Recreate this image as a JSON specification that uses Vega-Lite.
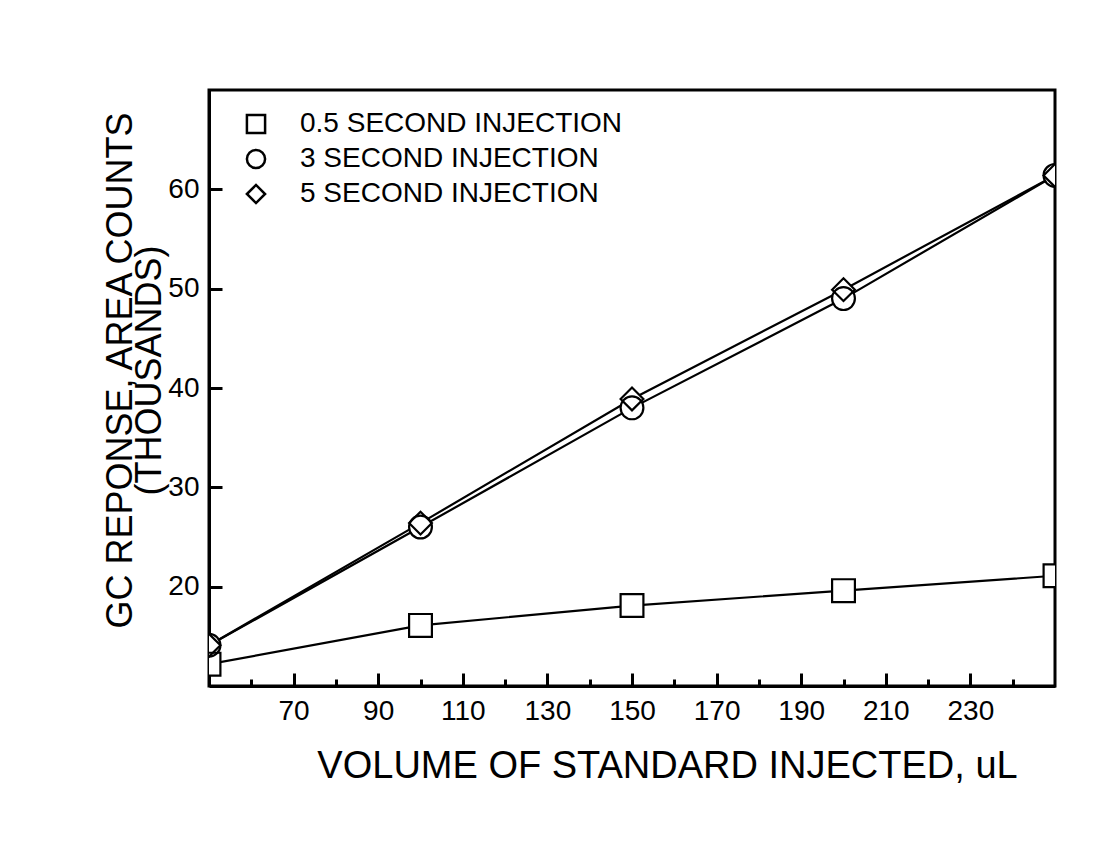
{
  "$schema": "https://vega.github.io/schema/vega-lite/v6.json",
  "autosize": "none",
  "width": 846,
  "height": 596,
  "padding": {"left": 209, "top": 90, "right": 63, "bottom": 166},
  "background": "white",
  "config": {
    "font": "Liberation Sans",
    "view": {"stroke": "black", "strokeWidth": 3},
    "axis": {"domainColor": "black", "domainWidth": 3, "tickColor": "black", "tickWidth": 3, "labelColor": "black", "titleColor": "black", "grid": false, "titleFontWeight": "normal", "labelFont": "Liberation Sans", "titleFont": "Liberation Sans"},
    "legend": {"labelFont": "Liberation Sans", "labelFontSize": 28, "labelLimit": 0}
  },
  "data": {
    "values": [
      {"volume": 50, "series": "0.5 SECOND INJECTION", "response": 12.2},
      {"volume": 100, "series": "0.5 SECOND INJECTION", "response": 16.1},
      {"volume": 150, "series": "0.5 SECOND INJECTION", "response": 18.1},
      {"volume": 200, "series": "0.5 SECOND INJECTION", "response": 19.6},
      {"volume": 250, "series": "0.5 SECOND INJECTION", "response": 21.1},
      {"volume": 50, "series": "3 SECOND INJECTION", "response": 14.1},
      {"volume": 100, "series": "3 SECOND INJECTION", "response": 26.0},
      {"volume": 150, "series": "3 SECOND INJECTION", "response": 38.0},
      {"volume": 200, "series": "3 SECOND INJECTION", "response": 49.0},
      {"volume": 250, "series": "3 SECOND INJECTION", "response": 61.4},
      {"volume": 50, "series": "5 SECOND INJECTION", "response": 14.1},
      {"volume": 100, "series": "5 SECOND INJECTION", "response": 26.4},
      {"volume": 150, "series": "5 SECOND INJECTION", "response": 38.9},
      {"volume": 200, "series": "5 SECOND INJECTION", "response": 49.9},
      {"volume": 250, "series": "5 SECOND INJECTION", "response": 61.4}
    ]
  },
  "encoding": {
    "x": {
      "field": "volume", "type": "quantitative",
      "scale": {"domain": [50, 250], "nice": false, "zero": false},
      "axis": {
        "title": "VOLUME OF STANDARD INJECTED, uL",
        "titleFontSize": 38, "titlePadding": 22, "titleX": 458,
        "values": [60, 70, 80, 90, 100, 110, 120, 130, 140, 150, 160, 170, 180, 190, 200, 210, 220, 230, 240],
        "labelExpr": "datum.value % 20 == 10 ? datum.label : ''",
        "labelFontSize": 28, "labelPadding": 24,
        "tickSize": {"condition": {"test": "datum.value % 20 == 10", "value": -13}, "value": -7}
      }
    },
    "y": {
      "field": "response", "type": "quantitative",
      "scale": {"domain": [10, 70], "nice": false, "zero": false},
      "axis": {
        "title": ["GC REPONSE, AREA COUNTS", "(THOUSANDS)"],
        "titleFontSize": 36, "titleLineHeight": 29, "titlePadding": -1, "titleY": 280,
        "values": [20, 30, 40, 50, 60],
        "labelFontSize": 28, "labelPadding": 23,
        "tickSize": -13
      }
    }
  },
  "resolve": {"scale": {"shape": "independent"}, "legend": {"shape": "independent"}},
  "layer": [
    {
      "mark": {"type": "line", "color": "black", "strokeWidth": 2.2, "clip": true},
      "encoding": {"detail": {"field": "series"}}
    },
    {
      "mark": {"type": "point", "filled": true, "color": "white", "opacity": 1, "size": 520, "clip": true},
      "encoding": {
        "shape": {
          "field": "series", "type": "nominal",
          "scale": {"domain": ["0.5 SECOND INJECTION", "3 SECOND INJECTION", "5 SECOND INJECTION"], "range": ["square", "circle", "diamond"]},
          "legend": null
        }
      }
    },
    {
      "mark": {"type": "point", "filled": false, "color": "black", "strokeWidth": 2.2, "size": 520, "opacity": 1, "clip": true},
      "encoding": {
        "shape": {
          "field": "series", "type": "nominal",
          "scale": {"domain": ["0.5 SECOND INJECTION", "3 SECOND INJECTION", "5 SECOND INJECTION"], "range": ["square", "circle", "diamond"]},
          "legend": {
            "title": null, "orient": "none", "legendX": 33, "legendY": 20, "padding": 0,
            "labelFontSize": 28, "labelOffset": 30, "rowPadding": 5, "labelLimit": 0,
            "symbolSize": 330, "symbolStrokeColor": "black", "symbolStrokeWidth": 2.5, "labelColor": "black"
          }
        }
      }
    }
  ]
}
